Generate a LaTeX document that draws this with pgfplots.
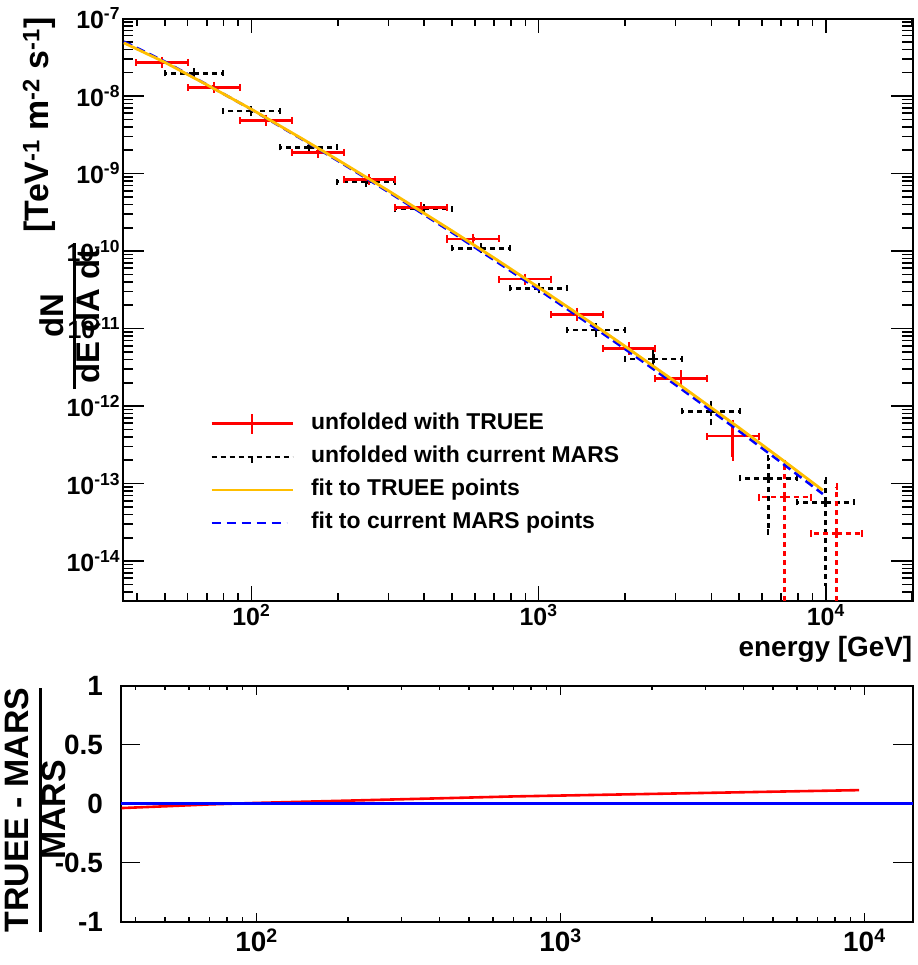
\documentclass[border=0pt]{standalone}
\usepackage{fontspec}
\setmainfont{Liberation Sans}
\usepackage{graphicx}
\usepackage{pgfplots}
\usepackage{pgfplotstable}
\pgfplotsset{compat=1.18}
\definecolor{fityellow}{RGB}{255,190,0}
\newcommand{\fs}[1]{\fontsize{#1}{#1}\selectfont\bfseries}

\pgfplotstableread{
x y xm xp ym yp
48.8 2.72e-8 9.17 11.27 1.58e-9 1.66e-9
73.97 1.29e-8 13.9 17.11 7.5e-10 7.9e-10
112.15 4.85e-9 21.07 25.91 2.8e-10 3.0e-10
170.0 1.88e-9 31.9 39.4 1.09e-10 1.15e-10
257.8 8.42e-10 48.4 59.5 4.9e-11 5.1e-11
390.8 3.64e-10 73.5 90.3 2.1e-11 2.2e-11
592.4 1.43e-10 111.3 137.1 8.3e-12 8.7e-12
898.1 4.35e-11 168.6 207.4 2.5e-12 2.7e-12
1361.4 1.53e-11 255.9 314.6 1.3e-12 1.4e-12
2064 5.55e-12 388 477 4.7e-13 5.2e-13
3129 2.25e-12 588 723 2.9e-13 3.6e-13
4743 4.10e-13 891 1097 1.92e-13 1.88e-13
}\trueesolid

\pgfplotstableread{
x y xm xp ym yp
7190 6.70e-14 1350 1662 6.69e-14 1.15e-13
10901 2.28e-14 2049 2523 2.27e-14 6.82e-14
}\trueedashed

\pgfplotstableread{
x y xm xp ym yp
63.1 1.96e-8 12.98 16.33 1.14e-9 1.20e-9
100 6.40e-9 20.57 25.89 3.7e-10 3.9e-10
158.5 2.18e-9 32.6 41.0 1.26e-10 1.33e-10
251.2 7.83e-10 51.7 65.0 4.5e-11 4.8e-11
398.1 3.48e-10 81.9 103.1 2.0e-11 2.1e-11
631 1.08e-10 129.8 163.4 6.3e-12 6.6e-12
1000 3.30e-11 205.7 258.9 1.9e-12 2.0e-12
1585 9.57e-12 326 410 1.07e-12 1.21e-12
2512 4.07e-12 517 650 5.1e-13 7.2e-13
3981 8.57e-13 819 1031 2.40e-13 2.03e-13
6310 1.17e-13 1298 1634 9.31e-14 9.4e-14
10000 5.71e-14 2057 2589 5.24e-14 5.39e-14
}\mars

\pgfplotstableread{
x y
36 4.85e-8
50 2.72e-8
70 1.396e-8
100 6.76e-9
150 2.82e-9
200 1.50e-9
300 6.0e-10
500 1.82e-10
700 8.15e-11
1000 3.40e-11
1500 1.234e-11
2000 5.91e-12
3000 2.05e-12
5000 5.22e-13
7000 2.075e-13
9770 8.18e-14
}\fittruee

\pgfplotstableread{
x y
36 5.04e-8
50 2.78e-8
70 1.404e-8
100 6.72e-9
150 2.77e-9
200 1.463e-9
300 5.79e-10
500 1.733e-10
700 7.67e-11
1000 3.18e-11
1500 1.145e-11
2000 5.45e-12
3000 1.879e-12
5000 4.74e-13
7000 1.873e-13
9770 7.34e-14
}\fitmars

\pgfplotstableread{
x r
36 -0.037
50 -0.022
70 -0.006
100 0.0066
150 0.018
200 0.026
300 0.0376
500 0.052
700 0.0616
1000 0.069
1500 0.0772
2000 0.083
3000 0.0914
5000 0.1018
7000 0.1086
9600 0.115
}\ratio

\pgfplotsset{
  xbars/.style n args={3}{forget plot, draw=none, mark=none,
    error bars/.cd, x dir=both, x explicit, error mark=|,
    error bar style={draw=#1, line width=2.6bp, #2},
    error mark options={draw=#1, solid, line width=2bp, mark size=#3}},
  ybars/.style n args={3}{forget plot, draw=none, mark=none,
    error bars/.cd, y dir=both, y explicit, error mark=-,
    error bar style={draw=#1, line width=2.6bp, #2},
    error mark options={draw=#1, solid, line width=2bp, mark size=#3}},
}

\begin{document}
\begin{tikzpicture}
\useasboundingbox (0,0) rectangle (918bp,965bp);

\begin{axis}[
  scale only axis, width=790bp, height=582bp,
  at={(122.5bp,364.5bp)}, anchor=south west,
  xmode=log, ymode=log,
  xmin=35.6, xmax=20050, ymin=3.1e-15, ymax=1e-7,
  axis line style={line width=2bp},
  tick align=inside, tick pos=both,
  tick style={black, line width=1.6bp},
  major tick length=22bp, minor tick length=11bp,
  xtick style={/pgfplots/major tick length=15bp, /pgfplots/minor tick length=7.5bp},
  xtick={100,1000,10000},
  xticklabels={10\textsuperscript{2},10\textsuperscript{3},10\textsuperscript{4}},
  minor xtick={40,50,60,70,80,90,200,300,400,500,600,700,800,900,2000,3000,4000,5000,6000,7000,8000,9000,20000},
  ytick={1e-14,1e-13,1e-12,1e-11,1e-10,1e-9,1e-8,1e-7},
  yticklabels={10\textsuperscript{-14},10\textsuperscript{-13},10\textsuperscript{-12},10\textsuperscript{-11},10\textsuperscript{-10},10\textsuperscript{-9},10\textsuperscript{-8},10\textsuperscript{-7}},
  minor ytick={4e-15,5e-15,6e-15,7e-15,8e-15,9e-15,
    2e-14,3e-14,4e-14,5e-14,6e-14,7e-14,8e-14,9e-14,
    2e-13,3e-13,4e-13,5e-13,6e-13,7e-13,8e-13,9e-13,
    2e-12,3e-12,4e-12,5e-12,6e-12,7e-12,8e-12,9e-12,
    2e-11,3e-11,4e-11,5e-11,6e-11,7e-11,8e-11,9e-11,
    2e-10,3e-10,4e-10,5e-10,6e-10,7e-10,8e-10,9e-10,
    2e-9,3e-9,4e-9,5e-9,6e-9,7e-9,8e-9,9e-9,
    2e-8,3e-8,4e-8,5e-8,6e-8,7e-8,8e-8,9e-8},
  ticklabel style={font=\fs{25}},
  yticklabel style={xshift=1bp},
  xlabel={energy [GeV]},
  xlabel style={at={(rel axis cs:1,0)}, anchor=north east, inner sep=0pt, yshift=-36bp, font=\fs{28}},
  legend style={draw=none, fill=none, at={(axis description cs:0.1070,0.3270)}, anchor=north west,
    font=\fs{23}, row sep=11bp, column sep=17bp,
    nodes={inner sep=0pt, text height=16.5bp, text depth=5.5bp}},
  legend cell align=left,
]
\addlegendimage{legend image code/.code={
  \draw[red, line width=2.6bp] (0bp,0bp) -- (81bp,0bp);
  \draw[red, line width=2.6bp] (40.5bp,-10bp) -- (40.5bp,10bp);}}
\addlegendentry{unfolded with TRUEE}
\addlegendimage{legend image code/.code={
  \draw[black, line width=2.6bp, dash pattern=on 5bp off 4bp] (0bp,0bp) -- (81bp,0bp);
  \draw[black, line width=2.6bp] (40.5bp,-6bp) -- (40.5bp,0bp);}}
\addlegendentry{unfolded with current MARS}
\addlegendimage{legend image code/.code={
  \draw[fityellow, line width=2.8bp] (0bp,0bp) -- (81bp,0bp);}}
\addlegendentry{fit to TRUEE points}
\addlegendimage{legend image code/.code={
  \draw[blue, line width=2.6bp, dash pattern=on 9bp off 6bp] (0bp,0bp) -- (75bp,0bp);}}
\addlegendentry{fit to current MARS points}

% MARS unfolded points (black dashed)
\addplot[xbars={black}{dash pattern=on 5bp off 4bp}{3bp}]
  table[x=x, y=y, x error minus=xm, x error plus=xp]{\mars};
\addplot[ybars={black}{dash pattern=on 5bp off 4bp}{3bp}]
  table[x=x, y=y, y error minus=ym, y error plus=yp]{\mars};

% TRUEE unfolded points (red solid)
\addplot[xbars={red}{solid}{3.5bp}]
  table[x=x, y=y, x error minus=xm, x error plus=xp]{\trueesolid};
\addplot[ybars={red}{solid}{3.5bp}]
  table[x=x, y=y, y error minus=ym, y error plus=yp]{\trueesolid};

% TRUEE points (red dashed, last two)
\addplot[xbars={red}{dash pattern=on 5bp off 4bp}{3.5bp}]
  table[x=x, y=y, x error minus=xm, x error plus=xp]{\trueedashed};
\addplot[ybars={red}{dash pattern=on 5bp off 4bp}{3.5bp}]
  table[x=x, y=y, y error minus=ym, y error plus=yp]{\trueedashed};

% fits
\addplot[forget plot, blue, line width=2.6bp, dash pattern=on 9bp off 5bp, mark=none] table[x=x,y=y]{\fitmars};
\addplot[forget plot, fityellow, line width=2.8bp, mark=none] table[x=x,y=y]{\fittruee};
\end{axis}

\begin{axis}[
  scale only axis, width=792.5bp, height=236bp,
  at={(120.5bp,43.3bp)}, anchor=south west,
  xmode=log,
  xmin=35.7, xmax=14450, ymin=-1, ymax=1,
  axis line style={line width=2bp},
  tick align=inside, tick pos=both,
  tick style={black, line width=1.6bp},
  major tick length=20bp, minor tick length=10bp,
  xtick style={/pgfplots/major tick length=9bp, /pgfplots/minor tick length=4.5bp},
  xtick={100,1000,10000},
  xticklabels={10\textsuperscript{2},10\textsuperscript{3},10\textsuperscript{4}},
  minor xtick={40,50,60,70,80,90,200,300,400,500,600,700,800,900,2000,3000,4000,5000,6000,7000,8000,9000},
  ytick={-1,-0.5,0,0.5,1},
  yticklabels={-1,-0.5,0,0.5,1},
  ticklabel style={font=\fs{28}},
  yticklabel style={xshift=-14bp},
  xticklabel style={yshift=-4bp},
]
\addplot[red, line width=2.6bp, mark=none] table[x=x,y=r]{\ratio};
\addplot[blue, line width=2.6bp, mark=none] coordinates {(35.7,0) (14450,0)};
\end{axis}

% axis titles
\node[rotate=90, inner sep=0pt, font=\fs{33}] at (74bp,649bp)
  {\setlength\arrayrulewidth{3bp}\renewcommand\arraystretch{0.95}%
   \begin{tabular}{@{\,}c@{\,}}dN\\\hline dE dA dt\end{tabular}};
\node[rotate=90, inner sep=0pt, font=\fs{34}] at (39bp,840bp)
  {[TeV\textsuperscript{-1} m\textsuperscript{-2} s\textsuperscript{-1}]};
\node[rotate=90, inner sep=0pt, font=\fs{34}] at (40bp,155bp)
  {\setlength\arrayrulewidth{3bp}\renewcommand\arraystretch{0.95}%
   \begin{tabular}{@{}c@{}}TRUEE - MARS\\\hline MARS\end{tabular}};
\end{tikzpicture}
\end{document}
